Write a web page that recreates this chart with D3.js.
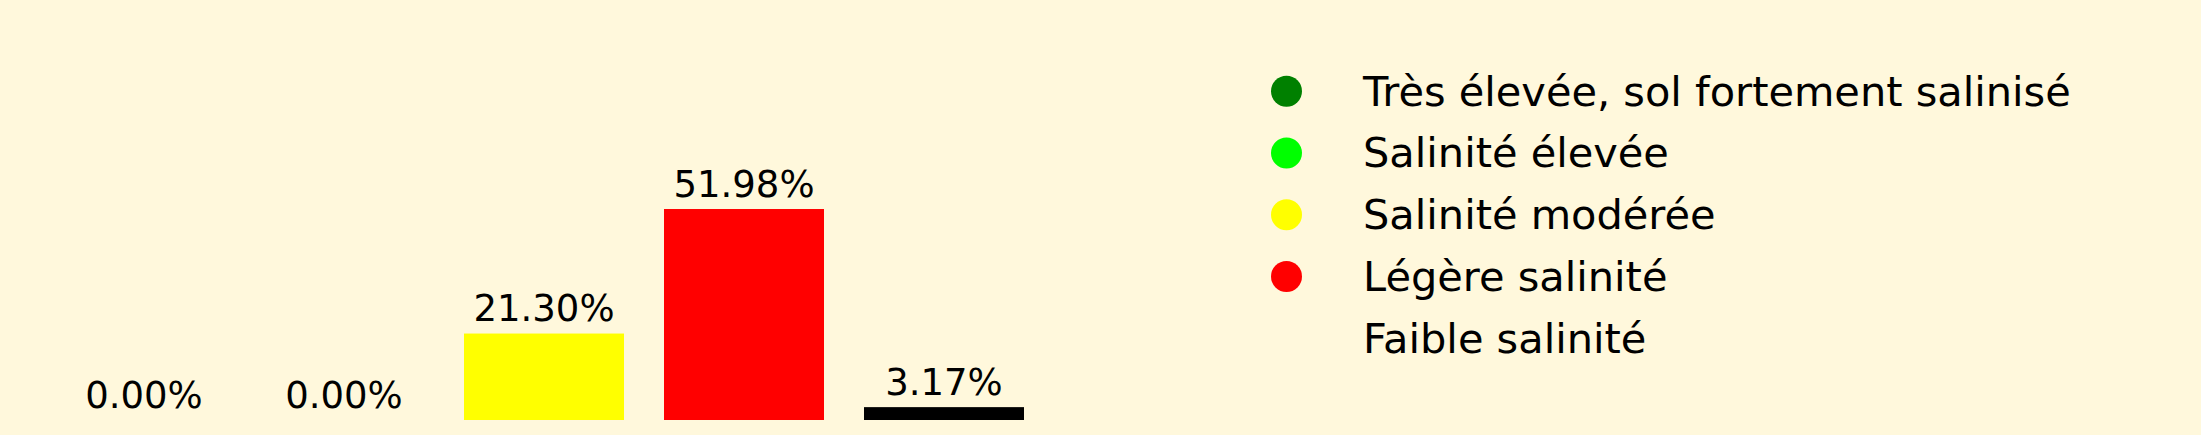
<!DOCTYPE html>
<html>
<head>
<meta charset="utf-8">
<script src="https://cdn.jsdelivr.net/npm/d3@7"></script>
<style>
  html, body { margin: 0; padding: 0; background: #FFF8DC; }
  svg { display: block; }
  text { font-family: "DejaVu Sans", sans-serif; fill: #000; }
</style>
</head>
<body>
<script>
const categories = ["Très élevée, sol fortement salinisé", "Salinité élevée", "Salinité modérée", "Légère salinité", "Faible salinité"];
const values = [0.00, 0.00, 21.30, 51.98, 3.17];
const barColors = ["#008000", "#00ff00", "#ffff00", "#ff0000", "#000000"];
const legendColors = ["#008000", "#00ff00", "#ffff00", "#ff0000", "none"];

const W = 2201, H = 435;
const svg = d3.select("body").append("svg").attr("width", W).attr("height", H);
svg.append("rect").attr("width", W).attr("height", H).attr("fill", "#FFF8DC");

const x = d3.scaleBand().domain(categories).range([24, 1064]).paddingInner(0.2).paddingOuter(0.2);
const y = d3.scaleLinear().domain([0, 100]).range([420, 14.1]);

const data = categories.map((c, i) => ({ c, v: values[i], color: barColors[i] }));

svg.append("g").selectAll("rect").data(data).join("rect")
  .attr("x", d => x(d.c))
  .attr("y", d => y(d.v))
  .attr("width", x.bandwidth())
  .attr("height", d => y(0) - y(d.v))
  .attr("fill", d => d.color);

svg.append("g").selectAll("text").data(data).join("text")
  .attr("x", d => x(d.c) + x.bandwidth() / 2)
  .attr("y", d => y(d.v) - 12.5)
  .attr("text-anchor", "middle")
  .attr("font-size", 37)
  .text(d => d.v.toFixed(2) + "%");

const leg = svg.append("g");
const rowY = i => 105.7 + i * 61.75;
leg.selectAll("circle").data(categories).join("circle")
  .attr("cx", 1286.5)
  .attr("cy", (d, i) => rowY(i) - 14.4)
  .attr("r", 15.5)
  .attr("fill", (d, i) => legendColors[i]);
leg.selectAll("text").data(categories).join("text")
  .attr("x", 1363)
  .attr("y", (d, i) => rowY(i))
  .attr("font-size", 41.5)
  .text(d => d);
</script>
</body>
</html>
